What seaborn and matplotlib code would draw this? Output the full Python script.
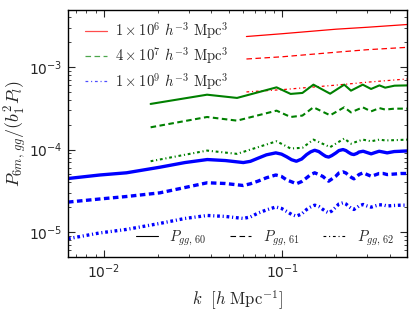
import numpy as np
import pandas as pd
import seaborn as sns
import matplotlib
matplotlib.use("Agg")
import matplotlib.pyplot as plt
from matplotlib.lines import Line2D

# ---------------- data ----------------
# red: volume 1e6 (h^-3 Mpc^3)
k_red = [0.063, 0.1, 0.2, 0.3, 0.5]
red_60 = [2.34e-3, 2.53e-3, 2.87e-3, 3.03e-3, 3.27e-3]
red_61 = [1.25e-3, 1.33e-3, 1.51e-3, 1.62e-3, 1.73e-3]
red_62 = [4.99e-4, 5.32e-4, 6.03e-4, 6.55e-4, 7.16e-4]

# green: volume 4e7
k_green = [0.0183, 0.0379, 0.0558, 0.0929, 0.1114, 0.1297, 0.1495, 0.1855,
           0.2225, 0.2427, 0.2825, 0.3146, 0.3503, 0.3773, 0.4257, 0.508]
green_60 = [3.57e-4, 4.62e-4, 4.22e-4, 5.67e-4, 4.72e-4, 4.85e-4, 6.11e-4, 4.75e-4,
            6.11e-4, 5.17e-4, 6.11e-4, 5.42e-4, 5.99e-4, 5.62e-4, 5.94e-4, 5.99e-4]
green_61 = [1.86e-4, 2.48e-4, 2.24e-4, 2.96e-4, 2.48e-4, 2.58e-4, 3.25e-4, 2.60e-4,
            3.25e-4, 2.82e-4, 3.25e-4, 2.90e-4, 3.18e-4, 3.05e-4, 3.13e-4, 3.13e-4]
green_62 = [7.22e-5, 9.72e-5, 8.87e-5, 1.26e-4, 1.03e-4, 1.05e-4, 1.32e-4, 1.07e-4,
            1.36e-4, 1.18e-4, 1.32e-4, 1.26e-4, 1.32e-4, 1.29e-4, 1.30e-4, 1.32e-4]

# blue: volume 1e9
k_blue = [0.0063, 0.0095, 0.0134, 0.0206, 0.0285, 0.038, 0.048, 0.0605, 0.0663,
          0.0735, 0.0815, 0.092, 0.0991, 0.106, 0.1128, 0.12, 0.1285, 0.137,
          0.1443, 0.152, 0.1602, 0.169, 0.1754, 0.182, 0.1896, 0.2, 0.2077,
          0.219, 0.2274, 0.236, 0.2443, 0.252, 0.2623, 0.269, 0.284, 0.299,
          0.315, 0.331, 0.349, 0.368, 0.387, 0.424, 0.464, 0.508]
blue_60 = [4.46e-5, 4.92e-5, 5.23e-5, 6.11e-5, 6.96e-5, 7.57e-5, 7.36e-5, 6.96e-5, 7.20e-5,
           7.89e-5, 8.63e-5, 9.12e-5, 8.80e-5, 8.16e-5, 7.53e-5, 7.22e-5, 7.68e-5, 8.70e-5,
           9.38e-5, 9.81e-5, 9.46e-5, 8.70e-5, 8.27e-5, 8.11e-5, 8.46e-5, 9.12e-5, 9.72e-5,
           1.00e-4, 9.72e-5, 9.20e-5, 8.82e-5, 8.70e-5, 8.99e-5, 9.33e-5, 9.54e-5, 9.20e-5,
           8.87e-5, 9.20e-5, 9.54e-5, 9.33e-5, 9.12e-5, 9.46e-5, 9.54e-5, 9.64e-5]
blue_61 = [2.31e-5, 2.52e-5, 2.70e-5, 2.99e-5, 3.47e-5, 3.96e-5, 3.88e-5, 3.67e-5, 3.85e-5,
           4.16e-5, 4.55e-5, 4.92e-5, 4.72e-5, 4.28e-5, 4.07e-5, 3.85e-5, 4.10e-5, 4.55e-5,
           4.98e-5, 5.23e-5, 4.98e-5, 4.72e-5, 4.40e-5, 4.14e-5, 4.40e-5, 4.78e-5, 5.20e-5,
           5.37e-5, 5.20e-5, 4.85e-5, 4.59e-5, 4.42e-5, 4.72e-5, 4.98e-5, 5.23e-5, 4.98e-5,
           4.75e-5, 4.92e-5, 5.13e-5, 5.13e-5, 4.98e-5, 5.05e-5, 5.13e-5, 5.13e-5]
blue_62 = [8.32e-6, 9.78e-6, 1.078e-5, 1.274e-5, 1.464e-5, 1.591e-5, 1.548e-5, 1.464e-5, 1.527e-5,
           1.707e-5, 1.855e-5, 2.016e-5, 1.934e-5, 1.779e-5, 1.637e-5, 1.561e-5, 1.660e-5, 1.882e-5,
           2.016e-5, 2.121e-5, 2.045e-5, 1.882e-5, 1.779e-5, 1.716e-5, 1.804e-5, 2.016e-5, 2.193e-5,
           2.267e-5, 2.193e-5, 2.045e-5, 1.934e-5, 1.882e-5, 1.989e-5, 2.074e-5, 2.163e-5, 2.074e-5,
           2.006e-5, 2.074e-5, 2.145e-5, 2.133e-5, 2.074e-5, 2.104e-5, 2.121e-5, 2.121e-5]

volume_labels = [r"$1\times10^{6}\ h^{-3}\ {\rm Mpc}^{3}$",
                 r"$4\times10^{7}\ h^{-3}\ {\rm Mpc}^{3}$",
                 r"$1\times10^{9}\ h^{-3}\ {\rm Mpc}^{3}$"]
multipole_labels = [r"$P_{gg,\,60}$", r"$P_{gg,\,61}$", r"$P_{gg,\,62}$"]

# ---------------- style ----------------
sns.set_style("ticks")
plt.rcParams["font.family"] = ["DejaVu Sans"]
plt.rcParams["mathtext.fontset"] = "cm"
plt.rcParams["lines.scale_dashes"] = False
plt.rcParams["xtick.direction"] = "in"
plt.rcParams["ytick.direction"] = "in"
plt.rcParams["xtick.top"] = True
plt.rcParams["ytick.right"] = True

fig = plt.figure(figsize=(4.17, 3.13), dpi=100)
ax = fig.add_axes([0.163, 0.179, 0.813, 0.789])

styles = {
    "60": "-",
    "61": (0, (4.0, 2.5)),
    "62": (0, (2.0, 2.0, 0.8, 2.0)),
}

sets = [
    (k_red, [red_60, red_61, red_62], "red", 0.9),
    (k_green, [green_60, green_61, green_62], "green", 1.5),
    (k_blue, [blue_60, blue_61, blue_62], "blue", 2.4),
]

for kk, series, col, lw in sets:
    for key, vals in zip(["60", "61", "62"], series):
        df = pd.DataFrame({"k": kk, "P": vals})
        sns.lineplot(data=df, x="k", y="P", ax=ax, color=col, lw=lw,
                     linestyle=styles[key], estimator=None, sort=True, legend=False)

ax.set_xscale("log")
ax.set_yscale("log")
ax.set_xlim(0.0063, 0.5)
ax.set_ylim(5e-6, 4.9e-3)

ax.tick_params(which="major", length=5, width=0.8, labelsize=10, pad=4)
ax.tick_params(which="minor", length=2.5, width=0.6)
for s in ax.spines.values():
    s.set_linewidth(1.0)
    s.set_color("black")

ax.set_xlabel(r"$k\ \ [h\ {\rm Mpc}^{-1}]$", fontsize=12, labelpad=5)
ax.set_ylabel(r"$P_{6m,\,gg}/(b_1^2P_l)$", fontsize=13, labelpad=0)

h1 = [Line2D([], [], color="red", lw=0.9, alpha=0.7, linestyle=styles["60"]),
      Line2D([], [], color="green", lw=0.9, alpha=0.7, linestyle=styles["61"]),
      Line2D([], [], color="blue", lw=0.9, alpha=0.7, linestyle=styles["62"])]
leg1 = ax.legend(h1, volume_labels, loc="upper left", frameon=False, fontsize=10.5,
                 handlelength=1.5, handletextpad=0.55, labelspacing=0.3,
                 borderaxespad=0.3, bbox_to_anchor=(0.02, 1.0))
ax.add_artist(leg1)

h2 = [Line2D([], [], color="black", lw=0.8, linestyle=styles["60"]),
      Line2D([], [], color="black", lw=0.8, linestyle=styles["61"]),
      Line2D([], [], color="black", lw=0.8, linestyle=styles["62"])]
ax.legend(h2, multipole_labels, loc="lower center", ncol=3, frameon=False,
          fontsize=10.5, handlelength=1.5, handletextpad=0.8, columnspacing=1.6,
          bbox_to_anchor=(0.58, 0.0), borderaxespad=0.2)

fig.savefig("out.png", dpi=100)
